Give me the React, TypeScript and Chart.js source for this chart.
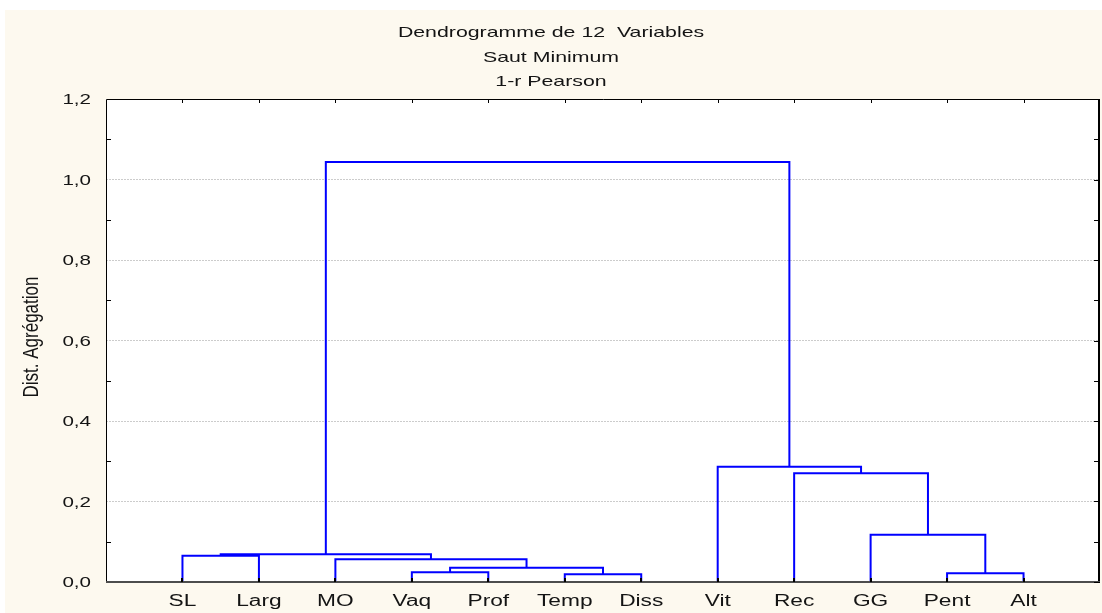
import React, { useEffect, useRef } from 'react';
import { Chart, registerables } from 'chart.js';

Chart.register(...registerables);

// ---- data ----
const titleLines = ['Dendrogramme de 12  Variables', 'Saut Minimum', '1-r Pearson'];
const yAxisTitle = 'Dist. Agrégation';
const leaves = ['SL', 'Larg', 'MO', 'Vaq', 'Prof', 'Temp', 'Diss', 'Vit', 'Rec', 'GG', 'Pent', 'Alt'];
// node ids 0..11 are the leaves, merge k creates node 12 + k
const mergeLeft = [5, 3, 10, 13, 2, 0, 17, 9, 8, 7, 18];
const mergeRight = [6, 4, 11, 12, 15, 1, 16, 14, 19, 20, 21];
const mergeHeight = [0.019, 0.024, 0.022, 0.0355, 0.0565, 0.065, 0.069, 0.1175, 0.27, 0.2865, 1.0435];
const yTickValues = [0, 0.2, 0.4, 0.6, 0.8, 1.0, 1.2];
const yTickLabels = ['0,0', '0,2', '0,4', '0,6', '0,8', '1,0', '1,2'];
const yMinorValues = [0.1, 0.3, 0.5, 0.7, 0.9, 1.1];

const CREAM = '#fdf9ef';
const BLUE = '#0000ff';
const TEXT = '#141414';
const STRETCH = 1.42;

function buildLinks() {
  const xs: number[] = leaves.map((_, i) => i + 1);
  const hs: number[] = leaves.map(() => 0);
  const links: { x: number; y: number }[][] = [];
  mergeLeft.forEach((l, k) => {
    const r = mergeRight[k];
    const h = mergeHeight[k];
    links.push([
      { x: xs[l], y: hs[l] },
      { x: xs[l], y: h },
      { x: xs[r], y: h },
      { x: xs[r], y: hs[r] },
    ]);
    xs.push((xs[l] + xs[r]) / 2);
    hs.push(h);
  });
  return links;
}

function stretchedText(
  ctx: CanvasRenderingContext2D,
  text: string,
  x: number,
  y: number,
  align: CanvasTextAlign,
  font: string,
  rotate = false,
  stretch = STRETCH
) {
  ctx.save();
  ctx.translate(x, y);
  ctx.scale(stretch, 1);
  if (rotate) ctx.rotate(-Math.PI / 2);
  ctx.font = font;
  ctx.fillStyle = TEXT;
  ctx.textAlign = align;
  ctx.textBaseline = 'alphabetic';
  ctx.fillText(text, 0, 0);
  ctx.restore();
}

const decor = {
  id: 'decor',
  beforeDraw(chart: any) {
    const { ctx, chartArea: a, width, height } = chart;
    ctx.save();
    ctx.fillStyle = '#ffffff';
    ctx.fillRect(0, 0, width, height);
    ctx.fillStyle = CREAM;
    ctx.fillRect(5, 10, width - 5, height - 10);
    ctx.fillStyle = '#ffffff';
    ctx.fillRect(a.left, a.top, a.right - a.left, a.bottom - a.top);
    ctx.restore();
  },
  afterDraw(chart: any) {
    const { ctx, chartArea: a, width } = chart;
    const xs = chart.scales.x;
    const ys = chart.scales.y;
    ctx.save();
    // frame
    ctx.strokeStyle = '#000000';
    ctx.lineWidth = 1;
    ctx.beginPath();
    ctx.moveTo(a.left + 0.5, a.bottom);
    ctx.lineTo(a.left + 0.5, a.top + 0.5);
    ctx.lineTo(a.right, a.top + 0.5);
    ctx.stroke();
    ctx.lineWidth = 2;
    ctx.beginPath();
    ctx.moveTo(a.right - 1, a.top);
    ctx.lineTo(a.right - 1, a.bottom + 1);
    ctx.stroke();
    ctx.strokeStyle = '#4d4d4d';
    ctx.beginPath();
    ctx.moveTo(a.left, a.bottom);
    ctx.lineTo(a.right, a.bottom);
    ctx.stroke();
    // inner ticks
    ctx.strokeStyle = '#000000';
    ctx.lineWidth = 1;
    ctx.beginPath();
    yMinorValues.forEach((v) => {
      const y = Math.round(ys.getPixelForValue(v)) + 0.5;
      ctx.moveTo(a.left, y);
      ctx.lineTo(a.left + 5, y);
    });
    [...yTickValues, ...yMinorValues].forEach((v) => {
      const y = Math.round(ys.getPixelForValue(v)) + 0.5;
      ctx.moveTo(a.right, y);
      ctx.lineTo(a.right - 6, y);
    });
    leaves.forEach((_, i) => {
      const x = Math.round(xs.getPixelForValue(i + 1)) + 0.5;
      ctx.moveTo(x, a.top);
      ctx.lineTo(x, a.top + 4);
    });
    ctx.stroke();
    ctx.lineWidth = 2;
    ctx.beginPath();
    leaves.forEach((_, i) => {
      const x = Math.round(xs.getPixelForValue(i + 1));
      ctx.moveTo(x, a.bottom);
      ctx.lineTo(x, a.bottom - 4);
    });
    ctx.stroke();
    ctx.restore();

    // tick labels
    yTickValues.forEach((v, i) => {
      stretchedText(ctx, yTickLabels[i], 91, ys.getPixelForValue(v) + 5, 'right', '14.5px "Liberation Sans", Arial, sans-serif');
    });
    leaves.forEach((name, i) => {
      stretchedText(ctx, name, xs.getPixelForValue(i + 1), 606, 'center', '16px "Liberation Sans", Arial, sans-serif');
    });
    // titles
    const baselines = [37, 61.5, 85.5];
    titleLines.forEach((t, i) => {
      stretchedText(ctx, t, width / 2, baselines[i], 'center', '15px "Liberation Sans", Arial, sans-serif');
    });
    stretchedText(ctx, yAxisTitle, 38, 337, 'center', '17px "Liberation Sans", Arial, sans-serif', true, 1.25);
  },
};

export default function App() {
  const ref = useRef<HTMLCanvasElement>(null);
  useEffect(() => {
    if (!ref.current) return;
    const links = buildLinks();
    const chart = new Chart(ref.current, {
      type: 'scatter',
      data: {
        datasets: links.map((pts) => ({
          data: pts,
          showLine: true,
          borderColor: BLUE,
          borderWidth: 2,
          pointRadius: 0,
          pointHoverRadius: 0,
          tension: 0,
          fill: false,
        })),
      },
      options: {
        responsive: false,
        animation: false,
        events: [],
        layout: { padding: { top: 99, right: 2, left: 0, bottom: 0 } },
        plugins: { legend: { display: false }, tooltip: { enabled: false }, title: { display: false } },
        scales: {
          x: {
            type: 'linear',
            min: 0,
            max: 13,
            ticks: { display: false, stepSize: 1 },
            grid: { display: false, drawTicks: false },
            border: { display: false },
            afterFit: (s: any) => {
              s.height = 31;
            },
          },
          y: {
            type: 'linear',
            min: 0,
            max: 1.2,
            ticks: { display: false, stepSize: 0.2 },
            grid: {
              drawTicks: false,
              lineWidth: 1,
              color: (c: any) => (c.tick && c.tick.value > 0.01 && c.tick.value < 1.19 ? '#cccccc' : 'rgba(0,0,0,0)'),
            },
            border: { display: false, dash: [2, 1] },
            afterFit: (s: any) => {
              s.width = 106;
            },
          },
        },
      } as any,
      plugins: [decor],
    });
    return () => chart.destroy();
  }, []);
  return (
    <div style={{ position: 'absolute', left: 0, top: 0, width: 1102, height: 613 }}>
      <canvas ref={ref} width={1102} height={613} style={{ display: 'block' }} />
    </div>
  );
}
